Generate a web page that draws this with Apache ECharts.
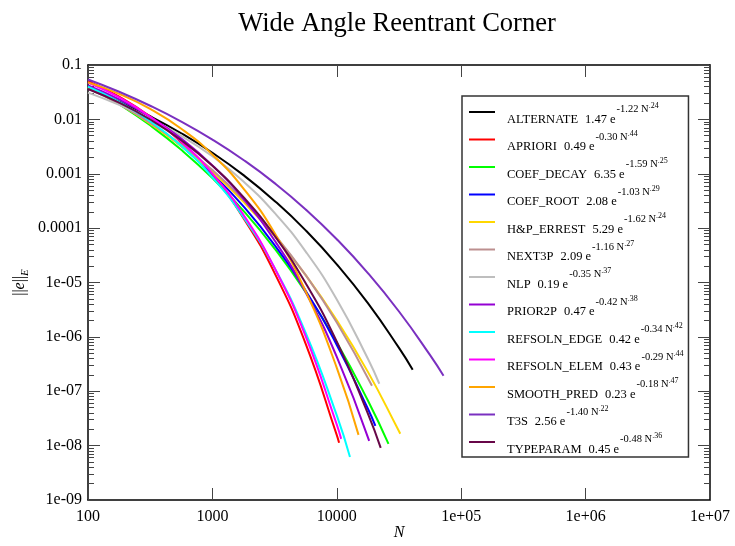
<!DOCTYPE html>
<html>
<head>
<meta charset="utf-8">
<script src="https://cdn.jsdelivr.net/npm/echarts@6/dist/echarts.min.js"></script>
<style>
  html, body { margin: 0; padding: 0; background: #fff; }
  #chart { width: 735px; height: 546px; }
</style>
</head>
<body>
<div id="chart"></div>
<script>
// Energy-norm error versus number of unknowns N, one curve per adaptive strategy.
const nGrid = [100, 178, 316, 562, 1000, 1778, 3162, 5623, 10000, 17783, 31623, 56234];

const methods = ['ALTERNATE', 'APRIORI', 'COEF_DECAY', 'COEF_ROOT', 'H&P_ERREST', 'NEXT3P', 'NLP',
  'PRIOR2P', 'REFSOLN_EDGE', 'REFSOLN_ELEM', 'SMOOTH_PRED', 'T3S', 'TYPEPARAM'];

// fitted model a e^(b N^c), as printed in the legend
const fitA = ['1.47', '0.49', '6.35', '2.08', '5.29', '2.09', '0.19', '0.47', '0.42', '0.43', '0.23', '2.56', '0.45'];
const fitB = ['-1.22', '-0.30', '-1.59', '-1.03', '-1.62', '-1.16', '-0.35', '-0.42', '-0.34', '-0.29', '-0.18', '-1.40', '-0.48'];
const fitC = ['.24', '.44', '.25', '.29', '.24', '.27', '.37', '.38', '.42', '.44', '.47', '.22', '.36'];

const colors = ['#000000', '#ff0000', '#00ff00', '#0000ff', '#ffd700', '#bc8f8f', '#bebebe',
  '#9400d3', '#00ffff', '#ff00ff', '#ffa500', '#7a30c0', '#670748'];

// error values at the nGrid points
const errAlternate = [3.69e-2, 2.138e-2, 1.143e-2, 5.559e-3, 2.432e-3, 9.42e-4, 3.17e-4, 9.10e-5, 2.163e-5, 4.17e-6, 6.28e-7];
const errApriori = [5.033e-2, 2.611e-2, 1.122e-2, 3.778e-3, 9.29e-4, 1.525e-4, 1.488e-5, 7.42e-7, 1.559e-8];
const errCoefDecay = [4.160e-2, 1.910e-2, 7.777e-3, 2.754e-3, 8.312e-4, 2.083e-4, 4.213e-5, 6.65e-6, 7.90e-7, 6.74e-8];
const errCoefRoot = [4.144e-2, 2.031e-2, 8.776e-3, 3.249e-3, 1.004e-3, 2.508e-4, 4.871e-5, 7.02e-6, 7.115e-7, 4.764e-8];
const errHpErrest = [3.969e-2, 1.923e-2, 8.366e-3, 3.217e-3, 1.074e-3, 3.049e-4, 7.178e-5, 1.364e-5, 2.027e-6, 2.271e-7, 1.840e-8];
const errNext3p = [3.743e-2, 1.903e-2, 8.638e-3, 3.431e-3, 1.168e-3, 3.314e-4, 7.612e-5, 1.365e-5, 1.833e-6];
const errNlp = [3.1e-2, 1.85e-2, 1.02e-2, 4.969e-3, 2.093e-3, 7.175e-4, 1.909e-4, 3.707e-5, 4.878e-6, 3.965e-7];
const errPrior2p = [4.192e-2, 2.322e-2, 1.113e-2, 4.454e-3, 1.426e-3, 3.455e-4, 5.918e-5, 6.587e-6, 4.285e-7];
const errRefEdge = [3.996e-2, 2.100e-2, 9.256e-3, 3.261e-3, 8.634e-4, 1.590e-4, 1.843e-5, 1.184e-6, 3.594e-8];
const errRefElem = [4.764e-2, 2.527e-2, 1.117e-2, 3.897e-3, 1.005e-3, 1.751e-4, 1.846e-5, 1.018e-6, 2.431e-8];
const errSmoothPred = [4.795e-2, 2.947e-2, 1.556e-2, 6.739e-3, 2.250e-3, 5.347e-4, 8.123e-5, 6.877e-6, 2.701e-7];
const errT3s = [5.415e-2, 3.217e-2, 1.782e-2, 9.113e-3, 4.256e-3, 1.794e-3, 6.728e-4, 2.211e-4, 6.250e-5, 1.490e-5, 2.927e-6, 4.613e-7];
const errTypeParam = [3.624e-2, 2.029e-2, 9.94e-3, 4.130e-3, 1.403e-3, 3.715e-4, 7.243e-5, 9.692e-6, 8.162e-7, 3.888e-8];

// final point of each run
const lastN = [40740, 10430, 26030, 20420, 32360, 19170, 21960, 18210, 12760, 10840, 14950, 72090, 22540];
const lastErr = [2.489e-7, 1.125e-8, 1.076e-8, 2.316e-8, 1.653e-8, 1.262e-7, 1.374e-7, 1.223e-8, 6.20e-9, 1.331e-8, 1.577e-8, 1.931e-7, 9.097e-9];

const errSets = [errAlternate, errApriori, errCoefDecay, errCoefRoot, errHpErrest, errNext3p, errNlp,
  errPrior2p, errRefEdge, errRefElem, errSmoothPred, errT3s, errTypeParam];

// axis ticks
const xTicks = [100, 1000, 10000, 1e5, 1e6, 1e7];
const xTickLabels = ['100', '1000', '10000', '1e+05', '1e+06', '1e+07'];
const yTicks = [1e-9, 1e-8, 1e-7, 1e-6, 1e-5, 1e-4, 1e-3, 1e-2, 1e-1];
const yTickLabels = ['1e-09', '1e-08', '1e-07', '1e-06', '1e-05', '0.0001', '0.001', '0.01', '0.1'];

const yMinor = [];
for (let i = 0; i < yTicks.length - 1; i++) {
  for (let k = 2; k <= 9; k++) yMinor.push(+(k * yTicks[i]).toPrecision(3));
}

function pickLabel(ticks, labels) {
  return function (v) {
    const lv = Math.log10(v);
    for (let i = 0; i < ticks.length; i++) {
      if (Math.abs(Math.log10(ticks[i]) - lv) < 1e-6) return labels[i];
    }
    return '';
  };
}

const serif = 'Liberation Serif, Times New Roman, serif';
const gridBox = { left: 88, right: 25, top: 65, bottom: 46, containLabel: false, outerBoundsMode: 'none' };
const frame = { show: true, lineStyle: { color: '#000', width: 1.5 } };
const tickStyle = { color: '#444', width: 1 };

const series = methods.map(function (name, i) {
  const pts = errSets[i].map(function (v, j) { return [nGrid[j], v]; });
  pts.push([lastN[i], lastErr[i]]);
  return {
    name: name,
    type: 'line',
    xAxisIndex: 0,
    yAxisIndex: 0,
    data: pts,
    smooth: true,
    symbol: 'none',
    showSymbol: false,
    color: colors[i],
    lineStyle: { color: colors[i], width: 2 },
    emphasis: { disabled: true }
  };
});

const chart = echarts.init(document.getElementById('chart'), null, { renderer: 'canvas' });
chart.setOption({
  animation: false,
  backgroundColor: '#fff',
  title: {
    text: 'Wide Angle Reentrant Corner',
    left: 392,
    top: 6,
    textAlign: 'center',
    textStyle: { fontFamily: serif, fontSize: 26.5, fontWeight: 'normal', color: '#000' }
  },
  grid: [Object.assign({}, gridBox), Object.assign({}, gridBox)],
  xAxis: [
    {
      type: 'log', gridIndex: 0, position: 'bottom', min: 100, max: 1e7,
      name: 'N', nameLocation: 'middle', nameGap: 25, nameMoveOverlap: false,
      nameTextStyle: { fontFamily: serif, fontSize: 16, fontStyle: 'italic', color: '#000' },
      axisLine: frame,
      axisTick: { show: true, inside: true, length: 12, customValues: xTicks, lineStyle: tickStyle },
      axisLabel: { customValues: xTicks, formatter: pickLabel(xTicks, xTickLabels), margin: 9,
        fontFamily: serif, fontSize: 16, color: '#000' },
      splitLine: { show: false }, minorTick: { show: false }
    },
    {
      type: 'log', gridIndex: 0, position: 'top', min: 100, max: 1e7,
      axisLine: frame,
      axisTick: { show: true, inside: true, length: 12, customValues: xTicks, lineStyle: tickStyle },
      axisLabel: { show: false }, splitLine: { show: false }
    },
    {
      type: 'log', gridIndex: 1, min: 100, max: 1e7, show: false
    }
  ],
  yAxis: [
    {
      type: 'log', gridIndex: 0, position: 'left', min: 1e-9, max: 0.1,
      name: '{t|||}{i|e}{t|||}{sub|E}', nameLocation: 'middle', nameGap: 60, nameRotate: 90,
      nameMoveOverlap: false,
      nameTextStyle: {
        rich: {
          t: { fontFamily: serif, fontSize: 16, color: '#000', lineHeight: 16, verticalAlign: 'top' },
          i: { fontFamily: serif, fontSize: 16, fontStyle: 'italic', color: '#000', lineHeight: 16, verticalAlign: 'top' },
          sub: { fontFamily: serif, fontSize: 11, fontStyle: 'italic', color: '#000', lineHeight: 11,
            verticalAlign: 'top', padding: [8, 0, 0, 0] }
        }
      },
      axisLine: frame,
      axisTick: { show: true, inside: true, length: 12, customValues: yTicks, lineStyle: tickStyle },
      axisLabel: { customValues: yTicks, formatter: pickLabel(yTicks, yTickLabels), margin: 6,
        fontFamily: serif, fontSize: 16, color: '#000' },
      splitLine: { show: false }
    },
    {
      type: 'log', gridIndex: 0, position: 'right', min: 1e-9, max: 0.1,
      axisLine: frame,
      axisTick: { show: true, inside: true, length: 12, customValues: yTicks, lineStyle: tickStyle },
      axisLabel: { show: false }, splitLine: { show: false }
    },
    {
      type: 'log', gridIndex: 1, position: 'left', min: 1e-9, max: 0.1,
      axisLine: { show: false },
      axisTick: { show: true, inside: true, length: 6, customValues: yMinor, lineStyle: tickStyle },
      axisLabel: { show: false }, splitLine: { show: false }
    },
    {
      type: 'log', gridIndex: 1, position: 'right', min: 1e-9, max: 0.1,
      axisLine: { show: false },
      axisTick: { show: true, inside: true, length: 6, customValues: yMinor, lineStyle: tickStyle },
      axisLabel: { show: false }, splitLine: { show: false }
    }
  ],
  legend: {
    orient: 'vertical',
    left: 462,
    top: 96,
    itemGap: 0,
    itemWidth: 26,
    itemHeight: 2,
    icon: 'rect',
    selectedMode: false,
    padding: [2.25, 5, 1.25, 7],
    borderColor: '#333',
    borderWidth: 1.5,
    backgroundColor: '#fff',
    data: methods,
    formatter: function (name) {
      const i = methods.indexOf(name);
      return '{g0| }{m|' + name + '}{g| }{m|' + fitA[i] + ' e}{s|' + fitB[i] + ' N}{ss|' + fitC[i] + '}';
    },
    textStyle: {
      fontFamily: serif,
      fontSize: 12.5,
      color: '#000',
      width: 184,
      rich: {
        g0: { width: 7, fontSize: 10, lineHeight: 10, verticalAlign: 'top' },
        g: { width: 7, fontSize: 10, lineHeight: 10, verticalAlign: 'top' },
        m: { fontFamily: serif, fontSize: 12.5, color: '#000', lineHeight: 27.5, verticalAlign: 'top', padding: [14.5, 0, 0, 0] },
        s: { fontFamily: serif, fontSize: 10.5, color: '#000', lineHeight: 10, verticalAlign: 'top', padding: [5.7, 0, 0, 1] },
        ss: { fontFamily: serif, fontSize: 8, color: '#000', lineHeight: 8, verticalAlign: 'top', padding: [3.8, 0, 0, 0] }
      }
    }
  },
  series: series
});
</script>
</body>
</html>
